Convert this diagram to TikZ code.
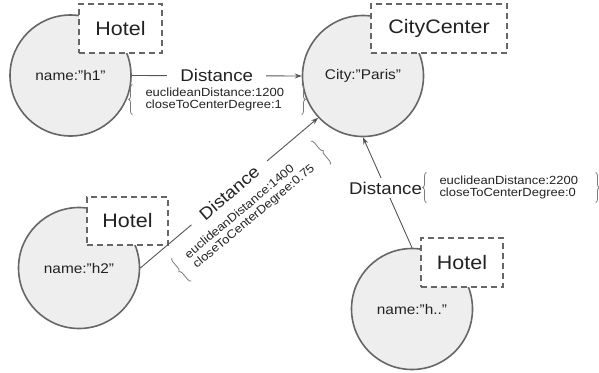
\documentclass[tikz,border=0pt]{standalone}
\usepackage{fontspec}
\setmainfont[FakeStretch=1.1]{Liberation Sans}
\usetikzlibrary{arrows.meta,decorations.pathreplacing}
\definecolor{circfill}{HTML}{EEEEEE}
\definecolor{circline}{HTML}{666666}
\definecolor{edgec}{HTML}{555555}
\definecolor{bracec}{HTML}{7A7A7A}
\definecolor{txt}{HTML}{222222}
\begin{document}
\begin{tikzpicture}[x=1pt,y=-1pt,
 entity/.style={circle,draw=circline,line width=1.6pt,fill=circfill,minimum size=121pt,inner sep=0pt,font=\fontsize{14}{16}\selectfont,text=txt},
 typebox/.style={draw=circline,dash pattern=on 6pt off 4pt,line width=1.1pt,fill=white,minimum height=49pt,inner sep=0pt,font=\fontsize{19.5}{22}\selectfont,text=txt},
 rel/.style={draw=edgec,line width=0.9pt,-{Stealth[length=7pt,width=5pt]}},
 rellabel/.style={fill=white,inner xsep=13pt,inner ysep=4pt,font=\fontsize{17}{19}\selectfont,text=txt},
 props/.style={text width=143pt,align=left,inner xsep=13pt,inner ysep=0pt,minimum height=30pt,font=\fontsize{11.8}{12.6}\selectfont,text=txt},
 lbrace/.style={draw=bracec,line width=0.8pt,decorate,decoration={brace,amplitude=3.5pt}},
 rbrace/.style={draw=bracec,line width=0.8pt,decorate,decoration={brace,mirror,amplitude=3.5pt}}
]
\useasboundingbox (0,0) rectangle (599,372);

% entities
\node[entity] (h1) at (70.5,75.5) {name:"h1"};
\node[entity] (cc) at (363,76) {City:"Paris"};
\node[entity] (h2) at (79,268) {name:"h2"};
\node[entity] (h3) at (412,309) {name:"h.."};

% type boxes
\node[typebox,minimum width=83pt] (t1) at (120.5,28.5) {Hotel};
\node[typebox,minimum width=136pt] (t2) at (439,28.5) {CityCenter};
\node[typebox,minimum width=81pt,minimum height=48pt] (t3) at (127.5,221) {Hotel};
\node[typebox,minimum width=82pt] (t4) at (462,262.5) {Hotel};

% relation 1
\draw[rel] (h1.east) -- node[rellabel,pos=0.5]{Distance} (cc.west);
\node[props] (p1) at (217,99.5) {euclideanDistance:1200\\closeToCenterDegree:1};
\draw[lbrace] (p1.south west) -- (p1.north west);
\draw[rbrace] (p1.south east) -- (p1.north east);

% relation 2
\draw[rel] (h2.east) -- node[rellabel,sloped,pos=0.5]{Distance} coordinate[pos=0.5] (m2) (cc.223);
\begin{scope}[shift={(m2)},rotate=40]
\node[props,transform shape,text width=157pt,inner xsep=12pt] (p2) at (5,28) {euclideanDistance:1400\\closeToCenterDegree:0.75};
\end{scope}
\draw[lbrace] (p2.south west) -- (p2.north west);
\draw[rbrace] (p2.south east) -- (p2.north east);

% relation 3
\draw[rel] (h3.north) -- node[rellabel,pos=0.54]{Distance} (cc.south);
\node[props] (p3) at (511,187.5) {euclideanDistance:2200\\closeToCenterDegree:0};
\draw[lbrace] (p3.south west) -- (p3.north west);
\draw[rbrace] (p3.south east) -- (p3.north east);
\end{tikzpicture}
\end{document}
